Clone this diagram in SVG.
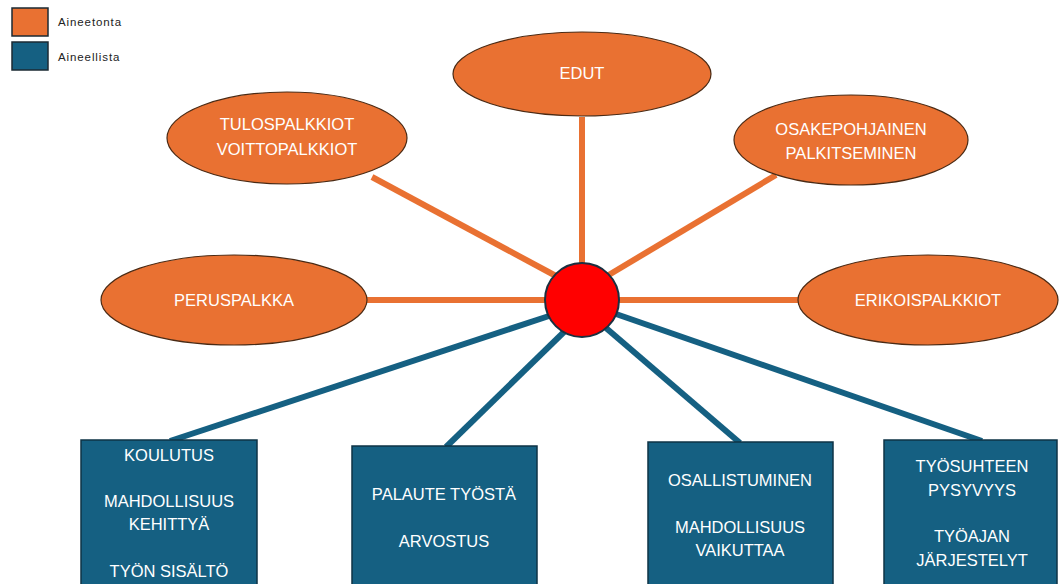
<svg xmlns="http://www.w3.org/2000/svg" width="1059" height="584" viewBox="0 0 1059 584">
  <style>
    .bg { fill: #ffffff; }
    .oval { fill: #E97132; stroke: #4a2a14; stroke-width: 1.2; }
    .box { fill: #156082; stroke: #0e3346; stroke-width: 1.5; }
    .hub { fill: #FF0000; stroke: #1b3040; stroke-width: 2; }
    .lo { stroke: #E97132; stroke-width: 6; fill: none; }
    .lb { stroke: #156082; stroke-width: 6; fill: none; }
    .t { font-family: "Liberation Sans", Arial, sans-serif; font-size: 16.5px; fill: #ffffff; text-anchor: middle; }
    .leg { font-family: "Liberation Sans", Arial, sans-serif; font-size: 11.5px; letter-spacing: 0.9px; fill: #222222; }
    .sw { stroke: #1b2a33; stroke-width: 1.5; }
  </style>
  <rect class="bg" x="0" y="0" width="1059" height="584"/>

  <!-- legend -->
  <g id="legend">
    <rect class="sw" x="12" y="8" width="36" height="28" fill="#E97132"/>
    <text class="leg" x="58" y="26">Aineetonta</text>
    <rect class="sw" x="12" y="42" width="36" height="28" fill="#156082"/>
    <text class="leg" x="58" y="61">Aineellista</text>
  </g>

  <!-- spokes from the hub -->
  <g id="connectors">
    <line class="lo" x1="582" y1="117" x2="582" y2="266"/>
    <line class="lo" x1="372" y1="177" x2="556" y2="276"/>
    <line class="lo" x1="776" y1="175" x2="607" y2="276"/>
    <line class="lo" x1="367" y1="300" x2="546" y2="300"/>
    <line class="lo" x1="618" y1="300" x2="798" y2="300"/>
    <line class="lb" x1="549" y1="316" x2="170" y2="441"/>
    <line class="lb" x1="565" y1="331" x2="446" y2="447"/>
    <line class="lb" x1="606" y1="328" x2="740" y2="443"/>
    <line class="lb" x1="616" y1="314" x2="982" y2="441"/>
  </g>

  <g id="hub">
    <circle class="hub" cx="582" cy="300" r="37"/>
  </g>

  <!-- intangible rewards -->
  <g id="edut">
    <ellipse class="oval" cx="582" cy="74" rx="129" ry="42"/>
    <text class="t" x="582" y="79">EDUT</text>
  </g>
  <g id="tulospalkkiot">
    <ellipse class="oval" cx="287" cy="138" rx="120" ry="46"/>
    <text class="t" x="287" y="130">TULOSPALKKIOT</text>
    <text class="t" x="287" y="155">VOITTOPALKKIOT</text>
  </g>
  <g id="osakepohjainen">
    <ellipse class="oval" cx="851" cy="140" rx="117" ry="45"/>
    <text class="t" x="851" y="135">OSAKEPOHJAINEN</text>
    <text class="t" x="851" y="159">PALKITSEMINEN</text>
  </g>
  <g id="peruspalkka">
    <ellipse class="oval" cx="234" cy="300" rx="133" ry="45"/>
    <text class="t" x="234" y="306">PERUSPALKKA</text>
  </g>
  <g id="erikoispalkkiot">
    <ellipse class="oval" cx="928" cy="300" rx="130" ry="45"/>
    <text class="t" x="928" y="306">ERIKOISPALKKIOT</text>
  </g>

  <!-- tangible rewards -->
  <g id="koulutus">
    <rect class="box" x="81" y="440" width="176" height="150"/>
    <text class="t" x="169" y="461">KOULUTUS</text>
    <text class="t" x="169" y="507">MAHDOLLISUUS</text>
    <text class="t" x="169" y="530">KEHITTYÄ</text>
    <text class="t" x="169" y="577">TYÖN SISÄLTÖ</text>
  </g>
  <g id="palaute">
    <rect class="box" x="352" y="446" width="185" height="144"/>
    <text class="t" x="444" y="500">PALAUTE TYÖSTÄ</text>
    <text class="t" x="444" y="547">ARVOSTUS</text>
  </g>
  <g id="osallistuminen">
    <rect class="box" x="648" y="442" width="185" height="148"/>
    <text class="t" x="740" y="486">OSALLISTUMINEN</text>
    <text class="t" x="740" y="533">MAHDOLLISUUS</text>
    <text class="t" x="740" y="556">VAIKUTTAA</text>
  </g>
  <g id="tyosuhde">
    <rect class="box" x="884" y="440" width="173" height="150"/>
    <text class="t" x="972" y="472">TYÖSUHTEEN</text>
    <text class="t" x="972" y="496">PYSYVYYS</text>
    <text class="t" x="972" y="542">TYÖAJAN</text>
    <text class="t" x="972" y="566">JÄRJESTELYT</text>
  </g>
</svg>
